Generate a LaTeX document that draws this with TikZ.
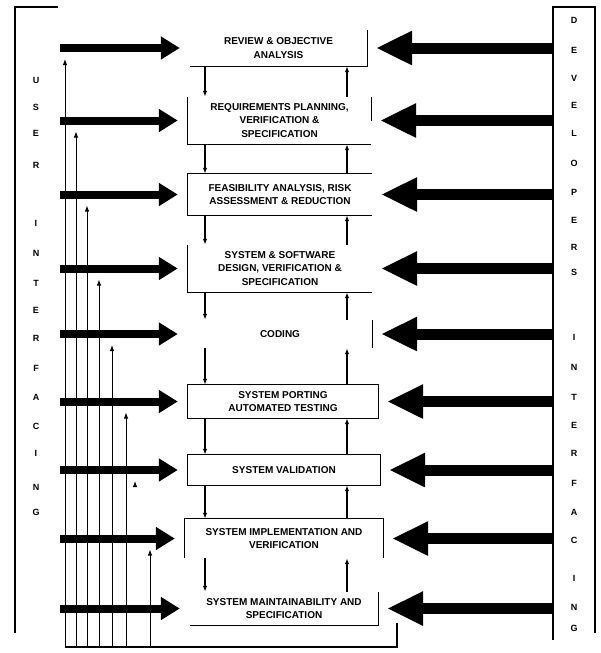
\documentclass[tikz,border=0pt]{standalone}
\usepackage{fontspec}
\setmainfont{Liberation Sans}
\usetikzlibrary{arrows.meta}
\tikzset{
  stage/.style={inner sep=0pt, align=center, font=\fontsize{10}{13.5}\selectfont\bfseries},
  edge/.style={line width=1.3pt},
  userarrow/.style={line width=8pt, -{Triangle[length=19pt,width=22pt]}},
  devarrow/.style={line width=11pt, -{Triangle[length=36pt,width=32pt]}},
  flow/.style={line width=1.2pt, -{Latex[length=6pt,width=4.5pt]}},
  feedback/.style={line width=1pt, -{Latex[length=6pt,width=4.5pt]}},
  sideletter/.style={font=\fontsize{9}{9}\selectfont\bfseries}
}

\begin{document}
\begin{tikzpicture}[x=1pt,y=-1pt]
  \useasboundingbox (0,0) rectangle (600,653);
  % stages of the process
  \node[stage, minimum width=177pt, minimum height=36pt] (B1) at (278.5,48) {REVIEW \& OBJECTIVE\\ANALYSIS};
  \node[stage, minimum width=183pt, minimum height=47pt] (B2) at (279.5,120.5) {REQUIREMENTS PLANNING,\\VERIFICATION \&\\SPECIFICATION};
  \node[stage, minimum width=184pt, minimum height=41pt] (B3) at (280,194.5) {FEASIBILITY ANALYSIS, RISK\\ASSESSMENT \& REDUCTION};
  \node[stage, minimum width=184pt, minimum height=47pt] (B4) at (280,268.5) {SYSTEM \& SOFTWARE\\DESIGN, VERIFICATION \&\\SPECIFICATION};
  \node[stage, minimum width=184pt, minimum height=28pt] (B5) at (280,334) {CODING};
  \node[stage, minimum width=190pt, minimum height=33pt] (B6) at (283,401.5) {SYSTEM PORTING\\AUTOMATED TESTING};
  \node[stage, minimum width=192pt, minimum height=30pt] (B7) at (284,470) {SYSTEM VALIDATION};
  \node[stage, minimum width=198pt, minimum height=39pt] (B8) at (284,538.5) {SYSTEM IMPLEMENTATION AND\\VERIFICATION};
  \node[stage, minimum width=188pt, minimum height=33pt] (B9) at (284,608.5) {SYSTEM MAINTAINABILITY AND\\SPECIFICATION};

  % the box outlines, as far as they are drawn
  \draw[edge] (B1.north east) -- (B1.south east) -- (B1.south west);
  \draw[edge] (B2.north west) -- (B2.south west) -- (B2.south east);
  \draw[edge] (B2.north east) -- (B2.east);
  \draw[edge] (B3.north east) -- (B3.north west) -- (B3.south west) -- (B3.south east);
  \draw[edge] (B4.north west) -- (B4.south west) -- (B4.south east);
  \draw[edge] (B5.north east) -- (B5.south east);
  \draw[edge] (B6.north west) rectangle (B6.south east);
  \draw[edge] (B7.north west) rectangle (B7.south east);
  \draw[edge] (B8.south west) -- (B8.north west) -- (B8.north east) -- (B8.south east);
  \draw[edge] (B9.north east) -- (B9.south east) -- (B9.south west);

  % down and up between the stages
  \foreach \a/\b in {1/2,2/3,3/4,4/5,5/6,6/7,7/8,8/9} {
    \draw[flow] (B\a.south -| 205,0) -- (B\b.north -| 205,0);
    \draw[flow] (B\b.north -| 347,0) -- (B\a.south -| 347,0);
  }

  % side frames
  \draw[edge] (58,7) -- (15,7) -- (15,633);
  \draw[edge] (553,640) -- (553,7) -- (595,7) -- (595,633);

  % thick arrows from both sides
  \foreach \k in {1,...,9} {
    \draw[userarrow] (B\k.west -| 60,0) -- ([xshift=-10pt]B\k.west);
    \draw[devarrow] (B\k.east -| 553,0) -- ([xshift=9pt]B\k.east);
  }

  % feedback bus
  \coordinate (busL) at (65,647);
  \coordinate (busR) at (397,623);
  \draw[edge] (busL) -| (busR);
  \foreach \k/\xx in {1/65,2/76,3/87,4/99,5/112,6/126,8/150}
    \draw[feedback] (\xx,647) -- ([yshift=-11pt]B\k.west -| \xx,0);
  \draw[feedback] (135,486) -- (135,481);

  % side labels
  \foreach \c/\y in {U/80,S/107,E/133,R/165,I/223,N/253,T/283,E/310,R/338,F/368,A/397,C/426,I/453,N/487,G/512}
    \node[sideletter] (ul\y) at (36,\y) {\c};
  \foreach \c/\y in {D/20,E/50,V/78,E/105,L/133,O/163,P/192,E/220,R/247,S/272,I/337,N/367,T/397,E/425,R/453,F/483,A/512,C/540,I/578,N/607,G/628}
    \node[sideletter] (dl\y) at (574,\y) {\c};
\end{tikzpicture}
\end{document}
